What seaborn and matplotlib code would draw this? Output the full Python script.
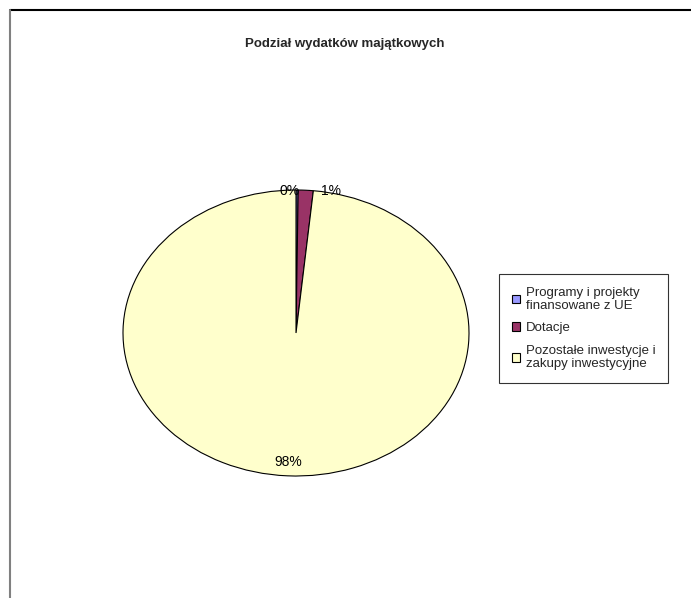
import matplotlib
matplotlib.use("Agg")
import matplotlib.pyplot as plt
from matplotlib.lines import Line2D
import seaborn as sns

# data
categories = ["Programy i projekty\nfinansowane z UE", "Dotacje",
              "Pozostałe inwestycje i\nzakupy inwestycyjne"]
shares = [0.2, 1.4, 98.4]
colors = ["#9999FF", "#993366", "#FFFFCC"]
title = "Podział wydatków majątkowych"

sns.set_style("white")
plt.rcParams['font.family'] = ['Liberation Sans', 'DejaVu Sans']

fig = plt.figure(figsize=(6.91, 5.98), dpi=100)
W, H = 691, 598

# pie area (excel draws it as a slightly squashed ellipse)
ax = fig.add_axes([123 / W, 1 - 476 / H, 346 / W, 286 / H])
wedges, texts, autotexts = ax.pie(
    shares, colors=colors, startangle=90, counterclock=False,
    autopct=lambda p: f"{p:.0f}%", pctdistance=0.9,
    wedgeprops=dict(edgecolor="black", linewidth=0.8),
    textprops=dict(fontsize=10, color="black"))
ax.set_aspect("auto")
ax.set_xlim(-1.0, 1.0)
ax.set_ylim(-1.0, 1.0)
for w in wedges:
    w.set_clip_on(False)

# small slices: labels sit on the rim, like excel's best fit
autotexts[0].set_position((-0.04, 0.99))
autotexts[0].set_va("center")
autotexts[1].set_position((0.2, 0.99))
autotexts[1].set_va("center")

fig.text(345 / W, 1 - 44 / H, title, ha="center", va="center",
         fontsize=9.5, fontweight="bold")

leg = fig.legend(wedges, categories, loc="upper left",
                 bbox_to_anchor=(499 / W, 1 - 274 / H),
                 fontsize=9.5, frameon=True, fancybox=False,
                 edgecolor="black", handlelength=0.65, handleheight=0.65,
                 handletextpad=0.45, labelspacing=0.8, borderpad=0.95,
                 borderaxespad=0)
leg.get_frame().set_linewidth(0.8)
for t in leg.get_texts():
    t.set_linespacing(1.15)

# chart frame, only top and left edges are visible in the crop
fig.add_artist(Line2D([10 / W, 1], [1 - 10 / H, 1 - 10 / H],
                      color="black", linewidth=1.5))
fig.add_artist(Line2D([10 / W, 10 / W], [0, 1 - 10 / H],
                      color="#808080", linewidth=1.5))

fig.savefig("out.png", dpi=100)
